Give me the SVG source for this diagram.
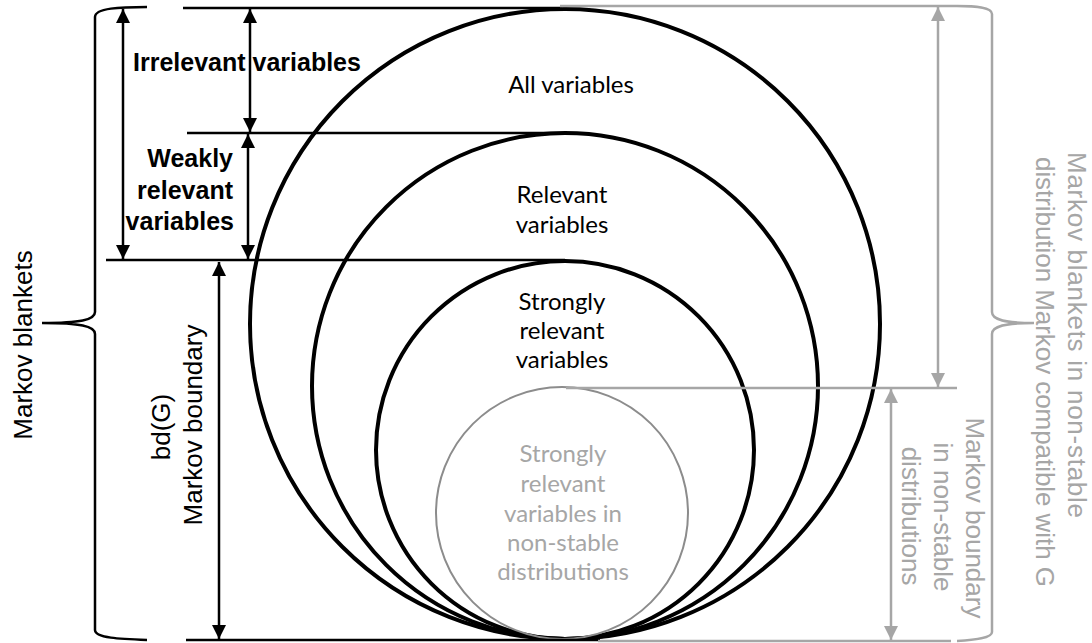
<svg xmlns="http://www.w3.org/2000/svg" width="1092" height="643" viewBox="0 0 1092 643">
<defs>
<style>
.bg{fill:#fff}
.circ{fill:none;stroke:#000;stroke-width:4}
.gcirc{fill:none;stroke:#8c8c8c;stroke-width:2}
.ln{stroke:#000;stroke-width:2.5;fill:none}
.gln{stroke:#a6a6a6;stroke-width:2.5;fill:none}
.arr{stroke:#000;stroke-width:2.5;marker-start:url(#ah);marker-end:url(#ah)}
.garr{stroke:#a6a6a6;stroke-width:2.5;marker-start:url(#gah);marker-end:url(#gah)}
.brace{fill:none;stroke:#000;stroke-width:2.5}
.gbrace{fill:none;stroke:#a6a6a6;stroke-width:2.5}
.ab{font-family:"Liberation Sans",Arial,sans-serif;font-size:25px;font-weight:bold;fill:#000}
.ar{font-family:"Liberation Sans",Arial,sans-serif;font-size:26px;fill:#000}
.gr{font-family:"Liberation Sans",Arial,sans-serif;font-size:26px;fill:#a6a6a6}
.cl{font-family:Lato,"Open Sans",sans-serif;font-size:24px;fill:#000;text-anchor:middle}
.gcl{font-family:Lato,"Open Sans",sans-serif;font-size:24px;fill:#a6a6a6;text-anchor:middle}
</style>
<marker id="ah" viewBox="0 0 14 14" refX="14" refY="7" markerWidth="14" markerHeight="14" markerUnits="userSpaceOnUse" orient="auto-start-reverse">
<path d="M0,0 L14,7 L0,14 Z" fill="#000"/>
</marker>
<marker id="gah" viewBox="0 0 14 14" refX="14" refY="7" markerWidth="14" markerHeight="14" markerUnits="userSpaceOnUse" orient="auto-start-reverse">
<path d="M0,0 L14,7 L0,14 Z" fill="#a6a6a6"/>
</marker>
</defs>
<rect class="bg" x="0" y="0" width="1092" height="643"/>

<g id="all-variables">
<circle class="circ" cx="565" cy="324" r="315"/>
<text class="cl" x="571" y="93">All variables</text>
</g>
<g id="relevant-variables">
<circle class="circ" cx="565" cy="386" r="253"/>
<text class="cl" x="562" y="203">Relevant</text>
<text class="cl" x="562" y="233">variables</text>
</g>
<g id="strongly-relevant">
<circle class="circ" cx="565" cy="450" r="189"/>
<text class="cl" x="562" y="310">Strongly</text>
<text class="cl" x="562" y="339">relevant</text>
<text class="cl" x="562" y="368">variables</text>
</g>
<g id="strongly-relevant-nonstable">
<circle class="gcirc" cx="562" cy="513" r="126"/>
<text class="gcl" x="563" y="462">Strongly</text>
<text class="gcl" x="563" y="492">relevant</text>
<text class="gcl" x="563" y="522">variables in</text>
<text class="gcl" x="563" y="551">non-stable</text>
<text class="gcl" x="563" y="580">distributions</text>
</g>

<g id="connectors">
<line class="ln" x1="183" y1="8" x2="562" y2="8"/>
<line class="gln" x1="560" y1="6" x2="957" y2="6"/>
<line class="ln" x1="187" y1="133" x2="565" y2="133"/>
<line class="ln" x1="106" y1="260" x2="565" y2="260"/>
<line class="gln" x1="566" y1="388" x2="957" y2="388"/>
<line class="ln" x1="186" y1="640" x2="600" y2="640"/>
<line class="gln" x1="598" y1="641" x2="951" y2="641"/>
<line class="arr" x1="123" y1="9" x2="123" y2="259"/>
<line class="arr" x1="250" y1="9" x2="250" y2="132"/>
<line class="arr" x1="248" y1="134" x2="248" y2="259"/>
<line class="arr" x1="219" y1="262" x2="219" y2="639"/>
<line class="garr" x1="938" y1="7" x2="938" y2="387"/>
<line class="garr" x1="891" y1="389" x2="891" y2="640"/>
<path class="brace" d="M147,7 C120,7 95,8 95,17 L95,312 C95,320 80,323 42,323 C80,323 95,326 95,334 L95,630 C95,638 120,639 147,640"/>
<path class="gbrace" d="M957,6 C975,6 992,7 992,14 L992,312 C992,320 1005,323 1034,323 C1005,323 992,326 992,334 L992,632 C992,638 975,640 957,641"/>
</g>

<g id="irrelevant-label">
<text class="ab" x="133" y="71">Irrelevant variables</text>
</g>
<g id="weakly-label">
<text class="ab" x="233" y="167" text-anchor="end">Weakly</text>
<text class="ab" x="233" y="199" text-anchor="end">relevant</text>
<text class="ab" x="234" y="230" text-anchor="end">variables</text>
</g>
<g id="markov-blankets-label">
<text class="ar" transform="translate(32,345) rotate(-90)" text-anchor="middle">Markov blankets</text>
</g>
<g id="markov-boundary-label">
<text class="ar" transform="translate(170,427) rotate(-90)" text-anchor="middle">bd(G)</text>
<text class="ar" transform="translate(202,425) rotate(-90)" text-anchor="middle">Markov boundary</text>
</g>
<g id="nonstable-blankets-label">
<text class="gr" transform="translate(1068,152) rotate(90)" textLength="366" lengthAdjust="spacing">Markov blankets in non-stable</text>
<text class="gr" transform="translate(1036,157) rotate(90)" textLength="430" lengthAdjust="spacing">distribution Markov compatible with G</text>
</g>
<g id="nonstable-boundary-label">
<text class="gr" transform="translate(966,518) rotate(90)" text-anchor="middle">Markov boundary</text>
<text class="gr" transform="translate(934,517) rotate(90)" text-anchor="middle">in non-stable</text>
<text class="gr" transform="translate(902,516) rotate(90)" text-anchor="middle">distributions</text>
</g>
</svg>
